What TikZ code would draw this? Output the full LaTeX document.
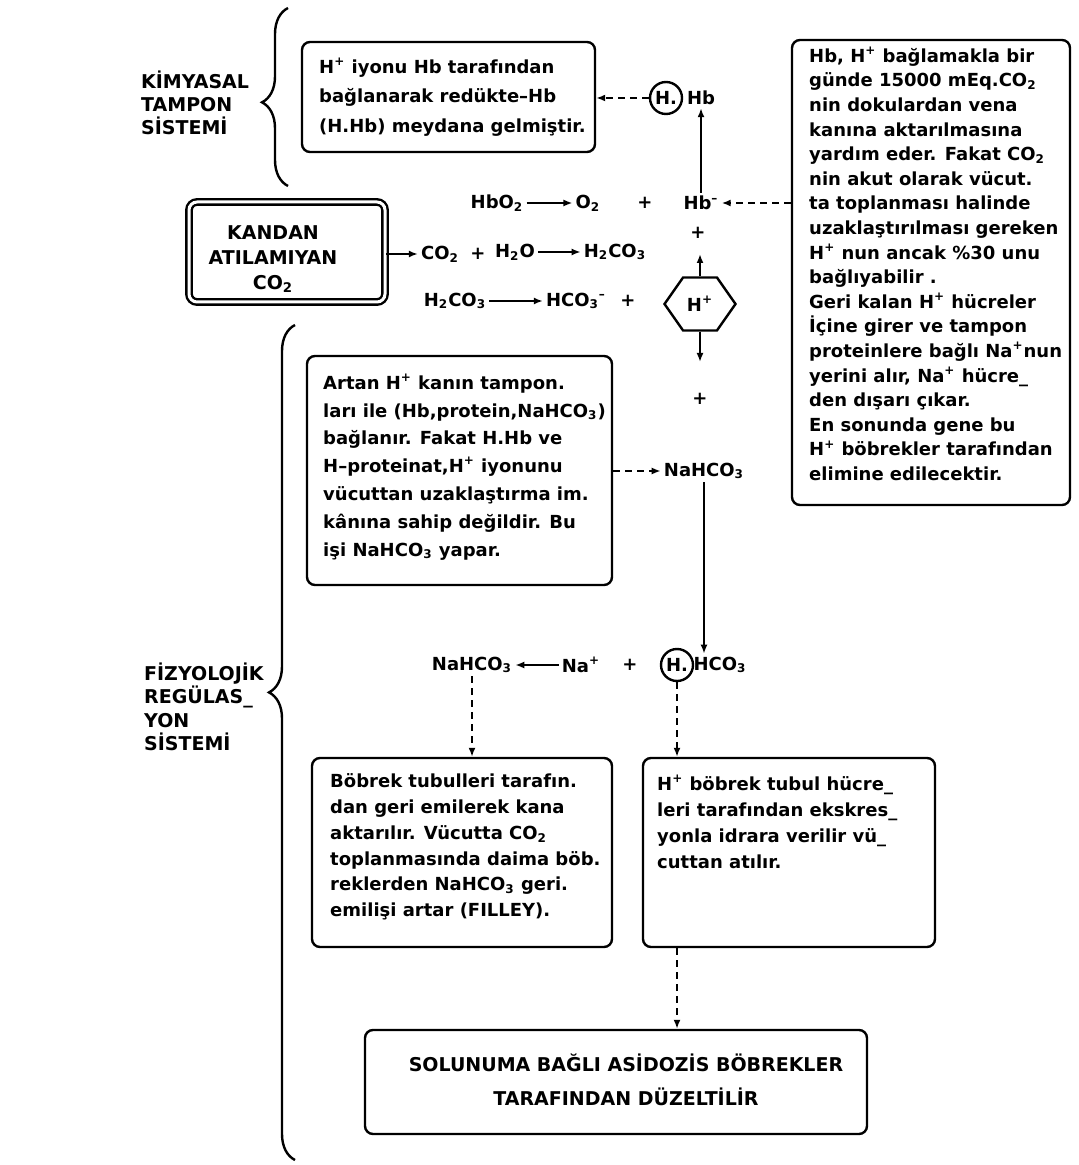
\documentclass[tikz,border=0pt]{standalone}
\usepackage{fontspec}
\setmainfont{DejaVu Sans}
\usetikzlibrary{arrows.meta,shapes.symbols,decorations.pathreplacing}
\newcommand\bxfont[1]{\bfseries\fontsize{9}{#1}\selectfont}
\newcommand\bgfont[1]{\bfseries\fontsize{9.5}{#1}\selectfont}

\begin{document}
\begin{tikzpicture}[x=0.5pt, y=-0.5pt, line width=1.2pt, font=\bxfont{12},
    frame/.style={draw, rounded corners=4pt, inner sep=0pt},
    txt/.style={inner sep=0pt, anchor=west, align=left},
    chem/.style={inner sep=1pt},
    hcirc/.style={draw, circle, inner sep=0pt, minimum size=16pt},
    sol/.style={-{Latex[length=4.5pt,width=3.5pt]}},
    dsh/.style={dash pattern=on 3.5pt off 2.5pt, -{Latex[length=4.5pt,width=3.5pt]}},
    brc/.style={decorate, decoration={brace, amplitude=13pt, aspect=#1}}]
    \useasboundingbox (0,0) rectangle (1079,1165);

    \node[txt, font=\bgfont{11.5}] (kl) at (140,103) {KİMYASAL\\TAMPON\\SİSTEMİ};
    \node[txt, font=\bgfont{11.7}] (fl) at (143,707) {FİZYOLOJİK\\REGÜLAS\_\\YON\\SİSTEMİ};
    \coordinate (kb1) at (288,186);
    \coordinate (kb2) at (288,8);
    \coordinate (fb1) at (295,1160);
    \coordinate (fb2) at (295,325);
    \draw[brc=0.47] (kb1) -- (kb2);
    \draw[brc=0.56] (fb1) -- (fb2);

    \node[frame, minimum width=146.5pt, minimum height=55pt] (a) at (448.5,97) {};
    \node[txt, font=\bxfont{14.7}] (at) at (318,97) {H\textsuperscript{+} iyonu Hb tarafından\\bağlanarak redükte--Hb\\(H.Hb) meydana gelmiştir.};

    \node[frame, minimum width=139pt, minimum height=232.5pt] (r) at (931,272.5) {};
    \node[txt, font=\bxfont{12.3}] (rt) at (808,264) {Hb, H\textsuperscript{+} bağlamakla bir\\
      günde 15000 mEq.CO\textsubscript{2}\\
      nin dokulardan vena\\
      kanına aktarılmasına\\
      yardım eder. Fakat CO\textsubscript{2}\\
      nin akut olarak vücut.\\
      ta toplanması halinde\\
      uzaklaştırılması gereken\\
      H\textsuperscript{+} nun ancak \%30 unu\\
      bağlıyabilir .\\
      Geri kalan H\textsuperscript{+} hücreler\\
      İçine girer ve tampon\\
      proteinlere bağlı Na\textsuperscript{+}nun\\
      yerini alır, Na\textsuperscript{+} hücre\_\\
      den dışarı çıkar.\\
      En sonunda gene bu\\
      H\textsuperscript{+} böbrekler tarafından\\
      elimine edilecektir.};

    \node[frame, double, double distance=1.5pt, minimum width=98pt, minimum height=50pt] (k) at (287,252) {};
    \node[inner sep=0pt, align=center, font=\bgfont{12.5}] (kt) at (273,259) {KANDAN\\ATILAMIYAN\\CO\textsubscript{2}};

    \node[hcirc] (c1) at (666,98) {H.};
    \node[chem] (hb) at (701,98) {Hb};
    \node[chem] (hbo) at (497,203) {HbO\textsubscript{2}};
    \node[chem] (o) at (588,203) {O\textsubscript{2}};
    \node[chem] (p1) at (645,203) {+};
    \node[chem] (hbm) at (701,203) {Hb\textsuperscript{--}};
    \node[chem] (p2) at (698,233) {+};
    \node[chem] (co) at (440,254) {CO\textsubscript{2}};
    \node[chem] (p3) at (478,254) {+};
    \node[chem] (ho) at (515,252) {H\textsubscript{2}O};
    \node[chem] (hc1) at (615,252) {H\textsubscript{2}CO\textsubscript{3}};
    \node[chem] (hc2) at (455,301) {H\textsubscript{2}CO\textsubscript{3}};
    \node[chem] (bc) at (576,301) {HCO\textsubscript{3}\textsuperscript{--}};
    \node[chem] (p4) at (628,301) {+};
    \node[draw, signal, signal to=west and east, signal pointer angle=110,
      minimum width=35.5pt, minimum height=26.5pt, inner sep=0pt] (hx) at (700,304) {H\textsuperscript{+}};
    \coordinate (hu) at (700,254);
    \coordinate (hd) at (700,362);
    \node[chem] (p5) at (700,399) {+};

    \node[frame, minimum width=152.5pt, minimum height=114.5pt] (b) at (459.5,470.5) {};
    \node[txt, font=\bxfont{13.9}] (bt) at (322,467) {Artan H\textsuperscript{+} kanın tampon.\\
      ları ile (Hb,protein,NaHCO\textsubscript{3})\\
      bağlanır. Fakat H.Hb ve\\
      H--proteinat,H\textsuperscript{+} iyonunu\\
      vücuttan uzaklaştırma im.\\
      kânına sahip değildir. Bu\\
      işi NaHCO\textsubscript{3} yapar.};
    \node[chem] (n1) at (704,471) {NaHCO\textsubscript{3}};

    \node[chem] (n2) at (472,665) {NaHCO\textsubscript{3}};
    \node[chem] (na) at (581,665) {Na\textsuperscript{+}};
    \node[chem] (p6) at (630,665) {+};
    \node[hcirc] (c2) at (677,665) {H.};
    \node[chem] (hc3) at (720,665) {HCO\textsubscript{3}};

    \node[frame, minimum width=150pt, minimum height=94.5pt] (t) at (462,852.5) {};
    \node[txt, font=\bxfont{12.9}] (tt) at (329,847) {Böbrek tubulleri tarafın.\\
      dan geri emilerek kana\\
      aktarılır. Vücutta CO\textsubscript{2}\\
      toplanmasında daima böb.\\
      reklerden NaHCO\textsubscript{3} geri.\\
      emilişi artar (FILLEY).};
    \node[frame, minimum width=146pt, minimum height=94.5pt] (h) at (789,852.5) {};
    \node[txt, font=\bxfont{13.1}] (ht) at (656,822) {H\textsuperscript{+} böbrek tubul hücre\_\\
      leri tarafından ekskres\_\\
      yonla idrara verilir vü\_\\
      cuttan atılır.};

    \node[frame, minimum width=251pt, minimum height=52pt] (s) at (616,1082) {};
    \node[inner sep=0pt, align=center, font=\bgfont{17}] (st) at (626,1080) {SOLUNUMA BAĞLI ASİDOZİS BÖBREKLER\\TARAFINDAN DÜZELTİLİR};

    \draw[dsh] (c1) -- (c1 -| a.east);
    \draw[sol] (hbm) -- (hb);
    \draw[dsh] (hbm -| r.west) -- (hbm);
    \draw[sol] (hbo) -- (o);
    \draw[sol] (co -| k.east) -- (co);
    \draw[sol] (ho) -- (hc1);
    \draw[sol] (hc2) -- (bc);
    \draw[sol] (hx.north) -- (hu);
    \draw[sol] (hx.south) -- (hd);
    \draw[dsh] (n1 -| b.east) -- (n1);
    \draw[sol] (n1.south) -- (n1.south |- hc3.north);
    \draw[sol] (na) -- (n2);
    \draw[dsh] (n2) -- (n2 |- t.north);
    \draw[dsh] (c2) -- (c2 |- h.north);
    \draw[dsh] (c2 |- h.south) -- (c2 |- s.north);
  \end{tikzpicture}
\end{document}
